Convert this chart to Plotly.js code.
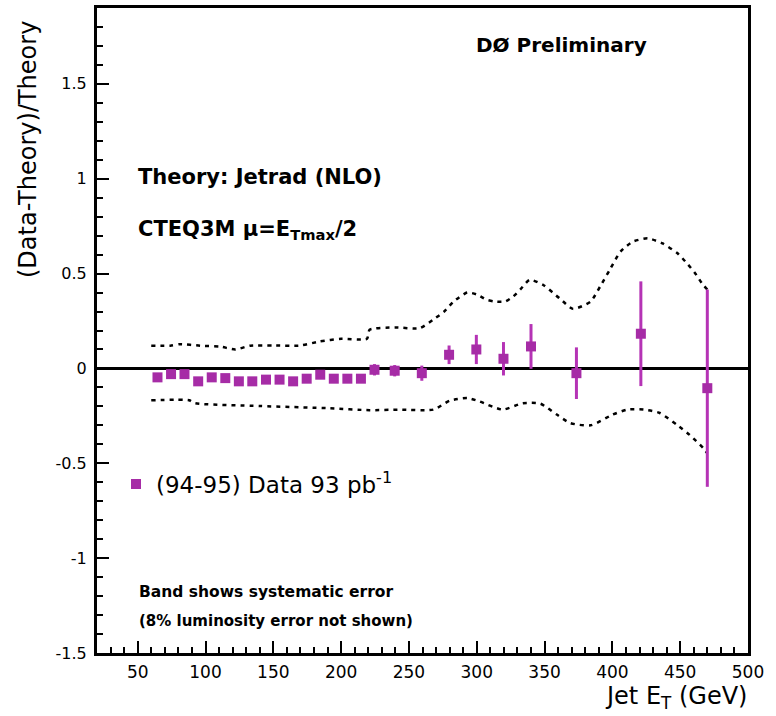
<!DOCTYPE html>
<html>
<head>
<meta charset="utf-8">
<script src="https://cdn.plot.ly/plotly-3.0.1.min.js"></script>
<style>html,body{margin:0;padding:0;background:#fff;}#chart{width:776px;height:716px;}</style>
</head>
<body>
<div id="chart"></div>
<script>
// ---- data ----
const dataEt = [64.6,74.6,84.5,94.6,104.6,114.6,124.6,134.5,144.6,154.6,164.6,174.6,184.6,194.6,204.6,214.6,224.6,239.5,259.5,279.6,299.7,319.7,340.0,373.5,421.0,470.0];
const dataY = [-0.047,-0.030,-0.030,-0.068,-0.047,-0.051,-0.068,-0.068,-0.059,-0.059,-0.068,-0.054,-0.033,-0.054,-0.054,-0.054,-0.007,-0.012,-0.025,0.072,0.100,0.051,0.116,-0.025,0.183,-0.104];
const dataErr = [0.01,0.01,0.01,0.01,0.01,0.01,0.01,0.01,0.01,0.01,0.01,0.01,0.01,0.01,0.01,0.01,0.03,0.03,0.04,0.049,0.077,0.088,0.118,0.136,0.276,0.52];

const bandUpEt = [60,74,81,96,111,122,133,150,170,184,200,219,221,240,258,268,276,283,293,300,307,313,321,327,332,339,349,361,371,384,391,398,406,415,426,437,448,455,461,466,470];
const bandUp = [0.12,0.12,0.128,0.12,0.115,0.10,0.12,0.121,0.121,0.142,0.156,0.156,0.204,0.216,0.212,0.258,0.30,0.353,0.40,0.39,0.363,0.353,0.353,0.38,0.415,0.467,0.44,0.37,0.314,0.353,0.432,0.519,0.616,0.668,0.686,0.659,0.607,0.554,0.502,0.449,0.416];

const bandLoEt = [60,88,92,140,192,221,243,268,280,293,302,319,334,347,359,369,384,400,411,423,435,448,457,467,470];
const bandLo = [-0.168,-0.168,-0.183,-0.198,-0.21,-0.22,-0.217,-0.217,-0.17,-0.156,-0.174,-0.217,-0.183,-0.186,-0.243,-0.288,-0.3,-0.244,-0.217,-0.217,-0.235,-0.3,-0.35,-0.42,-0.447];

const yTickVals = [-1.5,-1,-0.5,0,0.5,1,1.5];
const yTickText = ['-1.5','-1','-0.5','0','0.5','1','1.5'];
const xTickVals = [50,100,150,200,250,300,350,400,450,500];
const xTickText = ['50','100','150','200','250','300','350','400','450','500'];

// ---- layout helpers (pixel -> paper) ----
const W = 776, H = 716, L = 97, R = 748, T = 8, B = 653;
const px = x => (x - L) / (R - L);
const py = y => (B - y) / (B - T);

const FONT = 'DejaVu Sans, Liberation Sans, Arial, sans-serif';
const dataColor = '#a62ca6';

const traces = [
  {
    x: bandUpEt, y: bandUp, type: 'scatter', mode: 'lines', showlegend: false,
    line: {color: '#000', width: 2.5, dash: '4px,5px', shape: 'spline', smoothing: 0.6},
    hoverinfo: 'skip'
  },
  {
    x: bandLoEt, y: bandLo, type: 'scatter', mode: 'lines', showlegend: false,
    line: {color: '#000', width: 2.5, dash: '4px,5px', shape: 'spline', smoothing: 0.6},
    hoverinfo: 'skip'
  },
  {
    x: dataEt, y: dataY, type: 'scatter', mode: 'markers',
    name: '(94-95) Data 93 pb<sup>-1</sup>',
    marker: {symbol: 'square', size: 10, color: dataColor},
    error_y: {type: 'data', array: dataErr, visible: true, color: '#b533b5', thickness: 3, width: 0}
  }
];

const layout = {
  width: W, height: H,
  margin: {l: L, r: W - R, t: T, b: H - B, pad: 0},
  paper_bgcolor: '#fff', plot_bgcolor: '#fff',
  font: {family: FONT, color: '#000'},
  showlegend: true,
  legend: {
    x: px(116), y: py(484), xanchor: 'left', yanchor: 'middle',
    bgcolor: 'rgba(0,0,0,0)', borderwidth: 0,
    font: {family: FONT, size: 23, color: '#000'}
  },
  xaxis: {
    range: [20, 500], showgrid: false, zeroline: false,
    showline: true, linecolor: '#000', linewidth: 3, mirror: true,
    ticks: 'inside', ticklen: 12, tickwidth: 2, tickcolor: '#000',
    tickvals: xTickVals, ticktext: xTickText,
    tickfont: {family: FONT, size: 17, color: '#000'},
    ticklabelstandoff: 2,
    minor: {dtick: 10, tick0: 0, ticks: 'inside', ticklen: 6, tickwidth: 2, tickcolor: '#000', showgrid: false}
  },
  yaxis: {
    range: [-1.5, 1.9], showgrid: false,
    zeroline: true, zerolinecolor: '#000', zerolinewidth: 3,
    showline: true, linecolor: '#000', linewidth: 3, mirror: true,
    ticks: 'inside', ticklen: 12, tickwidth: 2, tickcolor: '#000',
    tickvals: yTickVals, ticktext: yTickText,
    tickfont: {family: FONT, size: 16, color: '#000'},
    ticklabelstandoff: 4,
    minor: {dtick: 0.1, tick0: 0, ticks: 'inside', ticklen: 6, tickwidth: 2, tickcolor: '#000', showgrid: false}
  },
  annotations: [
    {text: '<b>DØ Preliminary</b>', xref: 'paper', yref: 'paper', x: px(561), y: py(45),
     xanchor: 'center', yanchor: 'middle', showarrow: false, font: {family: FONT, size: 20}},
    {text: '<b>Theory: Jetrad (NLO)</b>', xref: 'paper', yref: 'paper', x: px(136), y: py(177),
     xanchor: 'left', yanchor: 'middle', showarrow: false, font: {family: FONT, size: 21}},
    {text: '<b>CTEQ3M μ=E<sub>Tmax</sub>/2</b>', xref: 'paper', yref: 'paper', x: px(136), y: py(230),
     xanchor: 'left', yanchor: 'middle', showarrow: false, font: {family: FONT, size: 21}},
    {text: '<b>Band shows systematic error</b>', xref: 'paper', yref: 'paper', x: px(137), y: py(592),
     xanchor: 'left', yanchor: 'middle', showarrow: false, font: {family: FONT, size: 15.5}},
    {text: '<b>(8% luminosity error not shown)</b>', xref: 'paper', yref: 'paper', x: px(137), y: py(621),
     xanchor: 'left', yanchor: 'middle', showarrow: false, font: {family: FONT, size: 15}},
    {text: '(Data-Theory)/Theory', xref: 'paper', yref: 'paper', x: px(28), y: py(150),
     xanchor: 'center', yanchor: 'middle', textangle: -90, showarrow: false, font: {family: FONT, size: 24}},
    {text: 'Jet E<sub>T</sub> (GeV)', xref: 'paper', yref: 'paper', x: px(749), y: py(697),
     xanchor: 'right', yanchor: 'middle', showarrow: false, font: {family: FONT, size: 24}}
  ]
};

Plotly.newPlot('chart', traces, layout, {displayModeBar: false, staticPlot: true});
</script>
</body>
</html>
